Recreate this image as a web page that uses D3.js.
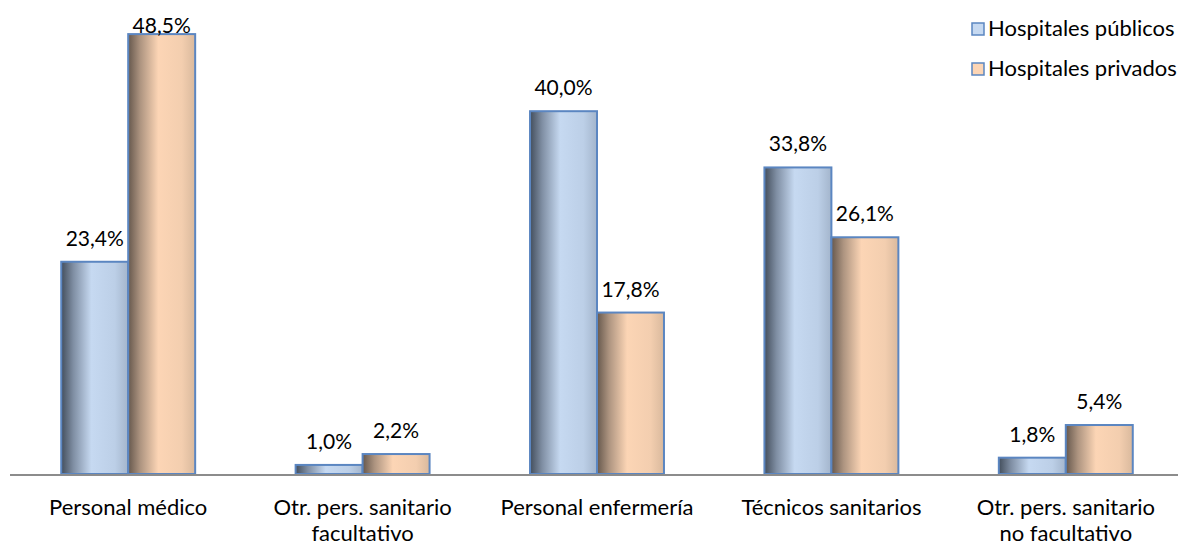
<!DOCTYPE html>
<html>
<head>
<meta charset="utf-8">
<script src="https://cdn.jsdelivr.net/npm/d3@7"></script>
<style>
  body { margin: 0; background: #fff; }
  svg text { font-family: Lato, "Open Sans", sans-serif; fill: #000; }
</style>
</head>
<body>
<svg id="chart" width="1178" height="545"></svg>
<script>
const categories = [
  ["Personal médico"],
  ["Otr. pers. sanitario", "facultativo"],
  ["Personal enfermería"],
  ["Técnicos sanitarios"],
  ["Otr. pers. sanitario", "no facultativo"]
];
const seriesNames = ["Hospitales públicos", "Hospitales privados"];
const publicos = [23.4, 1.0, 40.0, 33.8, 1.8];
const privados = [48.5, 2.2, 17.8, 26.1, 5.4];

const width = 1178, height = 545;
const svg = d3.select("#chart");

const fills = ["#c6d9f1", "#fcd5b5"];
const defs = svg.append("defs");
const gradStops = [
  [["0%", "#434e5c"], ["18%", "#7f8ea3"], ["45%", "#c6d9f1"], ["80%", "#bccfe7"], ["100%", "#a3b5cc"]],
  [["0%", "#66584d"], ["18%", "#ad9480"], ["45%", "#fcd5b5"], ["80%", "#f3ceaf"], ["100%", "#d9b99d"]]
];
gradStops.forEach((stops, i) => {
  const g = defs.append("linearGradient").attr("id", "grad" + i)
    .attr("x1", "0%").attr("x2", "100%").attr("y1", "0%").attr("y2", "0%");
  stops.forEach(s => g.append("stop").attr("offset", s[0]).attr("stop-color", s[1]));
});

const x0 = d3.scaleBand()
  .domain(d3.range(categories.length))
  .range([11, 1183]);

const x1 = d3.scaleBand()
  .domain([0, 1])
  .range([0, x0.bandwidth()])
  .paddingOuter(0.75);

const y = d3.scaleLinear().domain([0, 50]).range([474, 20.5]);

const data = categories.map((c, i) => ({ i, values: [publicos[i], privados[i]] }));

const groups = svg.selectAll(".grp")
  .data(data)
  .enter().append("g")
  .attr("transform", d => `translate(${x0(d.i)},0)`);

groups.selectAll("rect")
  .data(d => d.values.map((v, s) => ({ v, s })))
  .enter().append("rect")
  .attr("x", d => x1(d.s))
  .attr("y", d => y(d.v))
  .attr("width", x1.bandwidth())
  .attr("height", d => y(0) - y(d.v))
  .attr("fill", d => `url(#grad${d.s})`)
  .attr("stroke", "#5b86c1")
  .attr("stroke-width", 2);

groups.selectAll(".lbl")
  .data(d => d.values.map((v, s) => ({ v, s })))
  .enter().append("text")
  .attr("x", d => x1(d.s) + x1.bandwidth() / 2)
  .attr("y", d => Math.max(y(d.v) - 16, 33))
  .attr("text-anchor", "middle")
  .style("font-size", "21px")
  .text(d => d.v.toFixed(1).replace(".", ",") + "%");

// axis line
svg.append("line")
  .attr("x1", 10).attr("x2", width)
  .attr("y1", y(0) + 1).attr("y2", y(0) + 1)
  .attr("stroke", "#8c8c8c").attr("stroke-width", 2);

// category labels
categories.forEach((lines, i) => {
  const t = svg.append("text")
    .attr("x", x0(i) + x0.bandwidth() / 2)
    .attr("y", 515)
    .attr("text-anchor", "middle")
    .style("font-size", "22px");
  lines.forEach((l, k) => {
    t.append("tspan").attr("x", x0(i) + x0.bandwidth() / 2)
      .attr("dy", k === 0 ? 0 : 26).text(l);
  });
});

// legend
const legend = svg.append("g").attr("transform", "translate(972,0)");
seriesNames.forEach((name, i) => {
  const row = legend.append("g").attr("transform", `translate(0,${23 + i * 40})`);
  row.append("rect").attr("width", 12).attr("height", 12)
    .attr("fill", fills[i]).attr("stroke", "#5b86c1").attr("stroke-width", 1.5);
  row.append("text").attr("x", 16).attr("y", 13)
    .style("font-size", "22px").text(name);
});
</script>
</body>
</html>
